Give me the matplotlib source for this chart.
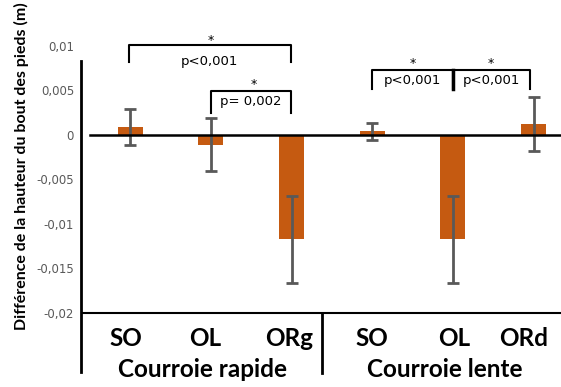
import numpy as np
import matplotlib.pyplot as plt

# données
categories = ['SO', 'OL', 'ORg', 'SO', 'OL', 'ORd']
groupes = ['Courroie rapide', 'Courroie lente']
valeurs = [0.0009, -0.0011, -0.0117, 0.0004, -0.0117, 0.00125]
erreurs = [0.002, 0.003, 0.0049, 0.001, 0.0049, 0.003]
yticks = [0.01, 0.005, 0, -0.005, -0.01, -0.015, -0.02]
ytick_labels = ['0,01', '0,005', '0', '-0,005', '-0,01', '-0,015', '-0,02']

orange = '#C55A11'
gris = '#595959'

W, H = 561, 387
fig = plt.figure(figsize=(W / 100, H / 100), dpi=100)
# axes: x de 81 à 561 px, y de 46 (0,01) à 313 (-0,02)
ax = fig.add_axes([81 / W, (H - 313) / H, 480 / W, 267 / H])

x = np.arange(len(categories))
ax.bar(x, valeurs, width=0.31, color=orange, zorder=2)
ax.errorbar(x, valeurs, yerr=erreurs, fmt='none', ecolor=gris, elinewidth=2,
            capsize=4, capthick=2, zorder=3)

ax.set_xlim(-0.61, 5.34)
ax.set_ylim(-0.02, 0.01)
ax.set_yticks(yticks)
ax.set_yticklabels(ytick_labels, color=gris, fontsize=8.5)
ax.tick_params(axis='y', length=0, pad=5)
ax.set_xticks([])

for s in ['top', 'right', 'left']:
    ax.spines[s].set_visible(False)
ax.spines['bottom'].set_linewidth(1.5)
ax.spines['bottom'].set_bounds(-0.585, 5.34)

# axe vertical qui descend dans la zone des catégories
ax.plot([0, 0], [0.944, -0.221], transform=ax.transAxes, color='black', lw=2, clip_on=False)
# ligne du zéro
ax.axhline(0, xmin=0.019, xmax=1, color='black', lw=1.8, zorder=4)
# séparateur entre les groupes
ax.plot([2.38, 2.38], [-0.02, -0.0267], color='black', lw=2, clip_on=False)

# libellés des catégories (petits décalages comme dans l'original)
decalages = [-0.06, -0.07, -0.03, 0.0, 0.01, -0.12]
for xi, c, d in zip(x, categories, decalages):
    ax.text(xi + d, -0.0229, c, ha='center', va='center', fontsize=17.5,
            fontweight='bold', family='Lato')
ax.text(0.9, -0.0264, groupes[0], ha='center', va='center', fontsize=17.5,
        fontweight='bold', family='Lato')
ax.text(3.9, -0.0264, groupes[1], ha='center', va='center', fontsize=17.5,
        fontweight='bold', family='Lato')

ax.set_ylabel('Différence de la hauteur du bout des pieds (m)', fontsize=11.5,
              fontweight='bold', family='Lato')
ax.yaxis.set_label_coords(-0.108, 0.55)


# crochets de significativité
def crochet(x1, x2, y, h, texte, star_x, dy_texte, dy_star):
    ax.plot([x1, x1, x2, x2], [y - h, y, y, y - h], color='black', lw=1.5, clip_on=False)
    ax.text(star_x, y + dy_star, '*', ha='center', va='bottom', fontsize=9)
    ax.text((x1 + x2) / 2, y - dy_texte, texte, ha='center', va='top', fontsize=9.5)


crochet(-0.02, 1.99, 0.0101, 0.0019, 'p<0,001', 1.0, 0.0011, -0.0002)
crochet(1.0, 1.99, 0.0049, 0.0024, 'p= 0,002', 1.53, 0.00035, 0.0)
crochet(3.0, 4.0, 0.0073, 0.0021, 'p<0,001', 3.5, 0.0004, 0.0)
crochet(4.0, 4.95, 0.0073, 0.0021, 'p<0,001', 4.47, 0.0004, 0.0)
ax.plot([4.0, 4.0], [0.0073, 0.0052], color='black', lw=2.5)

fig.savefig('out.png', dpi=100)
